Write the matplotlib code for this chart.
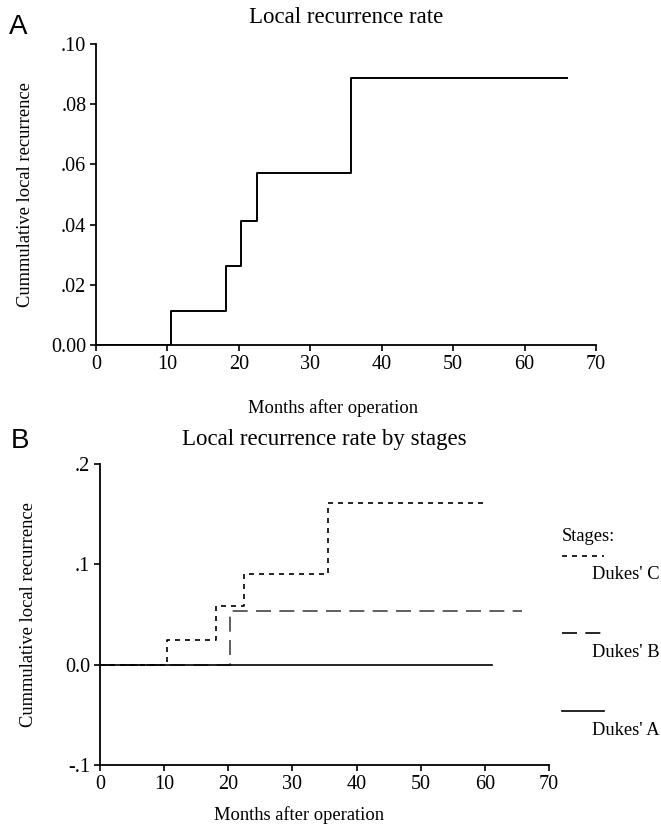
import numpy as np
import matplotlib.pyplot as plt
from matplotlib.lines import Line2D

# Panel A: overall cumulative local recurrence (step function)
months_all = [0, 10.5, 18.2, 20.3, 22.5, 35.7, 65.9]
recur_all = [0.0, 0.0114, 0.0262, 0.0413, 0.0571, 0.0887, 0.0887]

# Panel B: by Dukes' stage
months_c = [0, 10.4, 18.1, 22.5, 35.6, 60.2]
recur_c = [0.0, 0.025, 0.058, 0.090, 0.161, 0.161]
months_b = [0, 20.3, 65.8]
recur_b = [0.0, 0.053, 0.053]
months_a = [0, 61.1]
recur_a = [0.0, 0.0]

yticks_a = [0.0, 0.02, 0.04, 0.06, 0.08, 0.10]
yticklabels_a = ['0.00', '.02', '.04', '.06', '.08', '.10']
yticks_b = [-0.1, 0.0, 0.1, 0.2]
yticklabels_b = ['-.1', '0.0', '.1', '.2']
xticks = [0, 10, 20, 30, 40, 50, 60, 70]

plt.rcParams['font.family'] = ['Liberation Serif', 'DejaVu Serif']

fig = plt.figure(figsize=(6.61, 8.39), dpi=100)


def style_axes(ax):
    for s in ['top', 'right']:
        ax.spines[s].set_visible(False)
    for s in ['left', 'bottom']:
        ax.spines[s].set_linewidth(1.3)
    ax.tick_params(direction='out', length=4, width=1.2, labelsize=14.5, pad=3)
    ax.set_xticks(xticks)
    ax.set_xlim(0, 70)


# ======================================
ax1 = fig.add_axes([0.1452, 0.5888, 0.7565, 0.3588])
ax1.step(months_all, recur_all, where='post', color='black', lw=1.4)
style_axes(ax1)
ax1.set_ylim(0, 0.10)
ax1.set_yticks(yticks_a)
ax1.set_yticklabels(yticklabels_a)
ax1.set_ylabel('Cummulative local recurrence', fontsize=13.3, va='center')
ax1.yaxis.set_label_coords(-0.14, 0.5)
ax1.set_xlabel('Months after operation', fontsize=13.3, va='center')
ax1.xaxis.set_label_coords(0.474, -0.209)
ax1.set_title('Local recurrence rate', fontsize=16.5, pad=15)
fig.text(0.014, 0.983, 'A', fontsize=20, family='Liberation Sans', va='top')

# ======================================
ax2 = fig.add_axes([0.1513, 0.0882, 0.6793, 0.3588])
ax2.step(months_b, recur_b, where='post', color='#444444', lw=1.2,
         dashes=(9, 5))
ax2.step(months_c, recur_c, where='post', color='black', lw=1.2,
         dashes=(3, 3))
ax2.step(months_a, recur_a, where='post', color='black', lw=1.2)
style_axes(ax2)
ax2.set_ylim(-0.1, 0.2)
ax2.set_yticks(yticks_b)
ax2.set_yticklabels(yticklabels_b)
ax2.set_ylabel('Cummulative local recurrence', fontsize=13.3, va='center')
ax2.yaxis.set_label_coords(-0.16, 0.5)
ax2.set_xlabel('Months after operation', fontsize=13.3, va='center')
ax2.xaxis.set_label_coords(0.443, -0.166)
ax2.set_title('Local recurrence rate by stages', fontsize=16.5, pad=14)
fig.text(0.016, 0.490, 'B', fontsize=20, family='Liberation Sans', va='top')

# hand-drawn legend: sample line above each label
fig.text(0.850, 0.360, 'Stages:', fontsize=13.3, va='center')
legend_items = [("Dukes' C", (3, 3), 'black', 0.337, 0.315),
                ("Dukes' B", (9, 5), 'black', 0.245, 0.222),
                ("Dukes' A", None, 'black', 0.152, 0.129)]
for lab, dash, col, ly, ty in legend_items:
    ln = Line2D([0.850, 0.914], [ly, ly], transform=fig.transFigure,
                color=col, lw=1.2)
    if dash is not None:
        ln.set_dashes(dash)
    fig.add_artist(ln)
    fig.text(0.896, ty, lab, fontsize=13.3, va='center')

fig.savefig('out.png', dpi=100)
